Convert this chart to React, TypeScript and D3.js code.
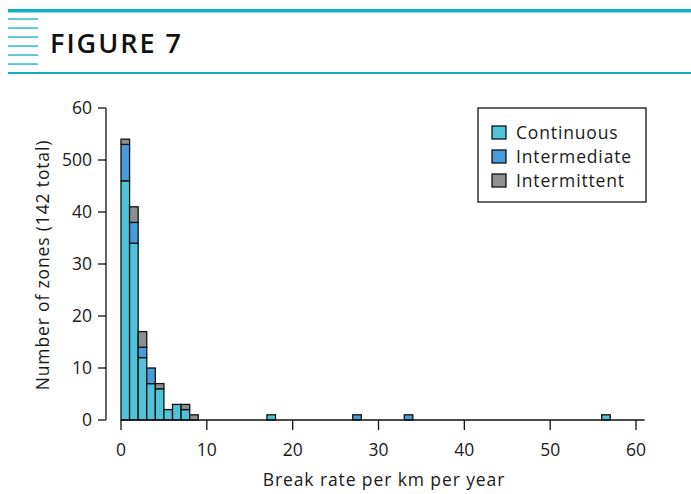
import React from 'react';
import * as d3 from 'd3';

// histogram bins (lower edge, width 1), counts per zone type
const binStart = [0, 1, 2, 3, 4, 5, 6, 7, 8, 17, 27, 33, 56];
const continuous = [46, 34, 12, 7, 6, 2, 3, 2, 0, 1, 0, 0, 1];
const intermediate = [7, 4, 2, 3, 0, 0, 0, 0, 0, 0, 1, 1, 0];
const intermittent = [1, 3, 3, 0, 1, 0, 0, 1, 1, 0, 0, 0, 0];

const seriesNames = ['Continuous', 'Intermediate', 'Intermittent'];
const seriesColors = ['#4fc4d8', '#4a9bd9', '#8e8f91'];
const xTicks = [0, 10, 20, 30, 40, 50, 60];
const yTicks = [0, 10, 20, 30, 40, 50, 60];
const yTickLabels = ['0', '10', '20', '30', '40', '500', '60'];

const FONT = '"Open Sans", sans-serif';
const TEAL = '#12aebf';

export default function App() {
  const W = 691, H = 494;
  const x = d3.scaleLinear().domain([0, 60]).range([121, 636]);
  const y = d3.scaleLinear().domain([0, 60]).range([420, 108]);

  const rows = binStart.map((b, i) => ({
    b, Continuous: continuous[i], Intermediate: intermediate[i], Intermittent: intermittent[i],
  }));
  const stacked = d3.stack<any>().keys(seriesNames)(rows);

  return (
    <svg width={W} height={H} style={{ position: 'absolute', left: 0, top: 0, background: '#fff' }}
      fontFamily={FONT}>
      {/* header */}
      <rect x={8} y={9} width={W - 8} height={3.5} fill={TEAL} />
      {[19, 28, 37, 46, 55, 64].map(v => (
        <rect key={v} x={8} y={v - 0.6} width={30} height={1.3} fill={TEAL} />
      ))}
      <text x={50} y={53} fontSize={27} fontWeight={600} fill="#111" letterSpacing={2}>FIGURE 7</text>
      <rect x={8} y={72} width={W - 8} height={2} fill={TEAL} />

      {/* bars */}
      {stacked.map((s, si) => (
        <g key={s.key}>
          {s.map((d, i) => d[1] > d[0] ? (
            <rect key={i}
              x={x(d.data.b)} width={x(d.data.b + 1) - x(d.data.b)}
              y={y(d[1])} height={y(d[0]) - y(d[1])}
              fill={seriesColors[si]} stroke="#111" strokeWidth={1.3} />
          ) : null)}
        </g>
      ))}

      {/* x axis */}
      <line x1={x(0)} x2={x(61)} y1={y(0)} y2={y(0)} stroke="#111" strokeWidth={1.3} />
      {xTicks.map(t => (
        <g key={t}>
          <line x1={x(t)} x2={x(t)} y1={y(0)} y2={y(0) + 10} stroke="#111" strokeWidth={1.3} />
          <text x={x(t)} y={456} fontSize={17.5} textAnchor="middle" fill="#1a1a1a">{t}</text>
        </g>
      ))}
      <text x={384} y={486} fontSize={17.5} textAnchor="middle" fill="#1a1a1a" letterSpacing={0.9}>Break rate per km per year</text>

      {/* y axis */}
      <line x1={106} x2={106} y1={y(60)} y2={y(0)} stroke="#111" strokeWidth={1.3} />
      {yTicks.map((t, i) => (
        <g key={t}>
          <line x1={98} x2={106} y1={y(t)} y2={y(t)} stroke="#111" strokeWidth={1.3} />
          <text x={92} y={y(t) + 6} fontSize={17.5} textAnchor="end" fill="#1a1a1a">{yTickLabels[i]}</text>
        </g>
      ))}
      <text transform={`translate(49,${y(30) + 1}) rotate(-90)`} fontSize={17.5} textAnchor="middle"
        fill="#1a1a1a" letterSpacing={0.85}>Number of zones (142 total)</text>

      {/* legend */}
      <rect x={478} y={108} width={168} height={94} fill="#fff" stroke="#111" strokeWidth={1.3} />
      {seriesNames.map((n, i) => (
        <g key={n} transform={`translate(492,${126 + i * 24})`}>
          <rect x={0} y={0} width={14} height={13} fill={seriesColors[i]} stroke="#111" strokeWidth={1.3} />
          <text x={24} y={13} fontSize={17.5} fill="#1a1a1a" letterSpacing={0.85}>{n}</text>
        </g>
      ))}
    </svg>
  );
}
